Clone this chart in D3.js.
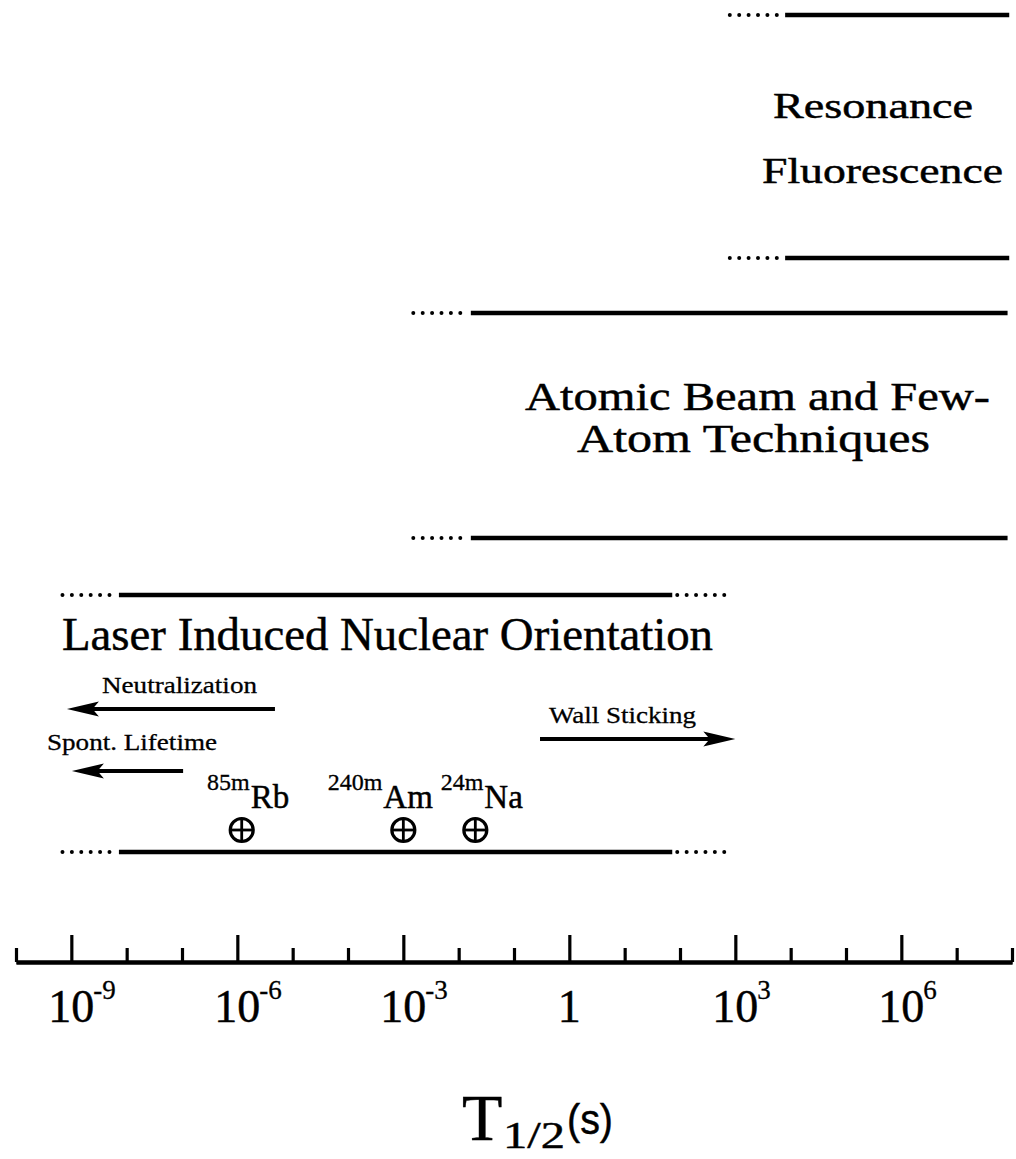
<!DOCTYPE html>
<html>
<head>
<meta charset="utf-8">
<script src="https://cdn.jsdelivr.net/npm/d3@7"></script>
<style>
  html, body { margin: 0; padding: 0; background: #fff; }
  svg { display: block; }
  text { fill: #000; stroke: #000; stroke-width: 0.45px; }
</style>
</head>
<body>
<svg id="chart" width="1016" height="1159"></svg>
<script>
// ---- data: accessible half-life ranges, as log10(T1/2 / s) ----
const techniques   = ["Resonance Fluorescence", "Atomic Beam and Few-Atom Techniques", "Laser Induced Nuclear Orientation"];
const labelLines   = [["Resonance", "Fluorescence"], ["Atomic Beam and Few-", "Atom Techniques"], ["Laser Induced Nuclear Orientation"]];
const dottedFrom   = [2.9, -2.82, -9.16];
const solidFrom    = [3.9, -1.78, -8.14];
const solidTo      = [7.95, 7.92, 1.86];
const dottedTo     = [null, null, 2.92];

// limiting processes for nuclear orientation (arrow from -> to, log10 s)
const limitNames   = ["Neutralization", "Spont. Lifetime", "Wall Sticking"];
const limitFrom    = [-5.32, -6.98, -0.53];
const limitTo      = [-9.08, -8.99, 3.0];

// isomers and their half-lives (s)
const isomerMass     = ["85m", "240m", "24m"];
const isomerSymbol   = ["Rb", "Am", "Na"];
const isomerHalfLife = [1.2e-6, 1.0e-3, 2.0e-2];

// axis ticks (decades) and labelled decades
const tickExponents  = d3.range(-10, 9);
const labelExponents = [-9, -6, -3, 0, 3, 6];

// ---- layout ----
const svg = d3.select("#chart");
const serif = "'Liberation Serif', 'Times New Roman', serif";
const sans  = "'Liberation Sans', Arial, sans-serif";
const x = d3.scaleLog().domain([1e-10, 1e8]).range([16, 1012]);
const xe = e => x(Math.pow(10, e));
const axisY = 962;

const bandRules = [[15, 258], [313, 538], [595, 852]];
const bandLabelLayout = [
  { x: [773, 762], w: [200, 241], y: [118, 183], size: 35 },
  { x: [525, 577], w: [465, 353], y: [410, 452], size: 40 },
  { x: [62],       w: [651],      y: [650],      size: 46 }
];
const limitLayout = [
  { y: 709, ty: 693, tx: 102, tw: 155 },
  { y: 771, ty: 750, tx: 47,  tw: 170 },
  { y: 739, ty: 723, tx: 549, tw: 147 }
];
const isomerY = 830, isomerDx = [8, -21, 8];

svg.append("rect").attr("width", 1016).attr("height", 1159).attr("fill", "#fff");

function addText(parent, str, px, py, size, width, family) {
  const t = parent.append("text")
    .attr("x", px).attr("y", py)
    .attr("font-family", family || serif)
    .attr("font-size", size)
    .text(str);
  if (width) t.attr("textLength", width).attr("lengthAdjust", "spacingAndGlyphs");
  if (size < 30) t.style("stroke-width", "0.3px");
  return t;
}

// ---- band rules: dotted lead-in, solid range, optional dotted tail ----
const bands = svg.append("g").attr("class", "bands");
techniques.forEach((name, i) => {
  bandRules[i].forEach(ry => {
    const g = bands.append("g");
    g.append("line")
      .attr("x1", xe(dottedFrom[i])).attr("x2", xe(solidFrom[i]) - 8)
      .attr("y1", ry).attr("y2", ry)
      .attr("stroke", "#000").attr("stroke-width", 4)
      .attr("stroke-linecap", "round").attr("stroke-dasharray", "0 9.4");
    g.append("line")
      .attr("x1", xe(solidFrom[i])).attr("x2", xe(solidTo[i]))
      .attr("y1", ry).attr("y2", ry)
      .attr("stroke", "#000").attr("stroke-width", 4.4);
    if (dottedTo[i] !== null) {
      g.append("line")
        .attr("x1", xe(solidTo[i]) + 5).attr("x2", xe(dottedTo[i]) + 1)
        .attr("y1", ry).attr("y2", ry)
        .attr("stroke", "#000").attr("stroke-width", 4)
        .attr("stroke-linecap", "round").attr("stroke-dasharray", "0 9.4");
    }
  });
  const L = bandLabelLayout[i];
  labelLines[i].forEach((line, k) => addText(bands, line, L.x[k], L.y[k], L.size, L.w[k]));
});

// ---- limiting-process arrows ----
const arrows = svg.append("g").attr("class", "limits");
limitNames.forEach((name, i) => {
  const L = limitLayout[i];
  const x0 = xe(limitFrom[i]), x1 = xe(limitTo[i]);
  const dir = Math.sign(x1 - x0);
  const headLen = 32, headHalf = 7.5;
  arrows.append("line")
    .attr("x1", x0).attr("x2", x1 - dir * headLen * 0.6)
    .attr("y1", L.y).attr("y2", L.y)
    .attr("stroke", "#000").attr("stroke-width", 4.2);
  arrows.append("path")
    .attr("d", `M${x1},${L.y} L${x1 - dir * headLen},${L.y - headHalf} L${x1 - dir * headLen * 0.8},${L.y} L${x1 - dir * headLen},${L.y + headHalf} Z`)
    .attr("fill", "#000");
  addText(arrows, name, L.tx, L.ty, 24, L.tw);
});

// ---- isomers ----
const iso = svg.append("g").attr("class", "isomers");
isomerSymbol.forEach((sym, i) => {
  const cx = x(isomerHalfLife[i]);
  const r = 11.5;
  iso.append("circle").attr("cx", cx).attr("cy", isomerY).attr("r", r)
    .attr("fill", "none").attr("stroke", "#000").attr("stroke-width", 3.2);
  iso.append("line").attr("x1", cx - r).attr("x2", cx + r).attr("y1", isomerY).attr("y2", isomerY)
    .attr("stroke", "#000").attr("stroke-width", 2.8);
  iso.append("line").attr("x1", cx).attr("x2", cx).attr("y1", isomerY - r).attr("y2", isomerY + r)
    .attr("stroke", "#000").attr("stroke-width", 2.8);
  const bx = cx + isomerDx[i];
  addText(iso, isomerMass[i], bx, 790, 24).attr("text-anchor", "end");
  addText(iso, sym, bx + 1, 808, 33);
});

// ---- axis ----
const axisG = svg.append("g").attr("transform", `translate(0,${axisY})`);
const minorTicks = tickExponents.filter(e => e % 3 !== 0).map(e => Math.pow(10, e));
const majorTicks = tickExponents.filter(e => e % 3 === 0).map(e => Math.pow(10, e));
axisG.append("g")
  .call(d3.axisTop(x).tickValues(minorTicks).tickSize(14).tickSizeOuter(0).tickFormat(() => ""));
axisG.append("g")
  .call(d3.axisTop(x).tickValues(majorTicks).tickSize(27).tickSizeOuter(0).tickFormat(() => ""));
axisG.selectAll(".domain").attr("stroke", "#000").attr("stroke-width", 4);
axisG.selectAll(".tick line").attr("stroke", "#000").attr("stroke-width", 3.2);

// decade labels: base "10" centred on the tick, exponent raised to the right
const tl = svg.append("g").attr("class", "tick-labels");
labelExponents.forEach(e => {
  const cx = xe(e);
  if (e === 0) {
    addText(tl, "1", cx, 1022, 46).attr("text-anchor", "middle");
    return;
  }
  const base = addText(tl, "10", cx, 1022, 46).attr("text-anchor", "middle");
  const half = base.node().getComputedTextLength() / 2;
  addText(tl, String(e), cx + half - 1, 999, 27);
});

// axis title T1/2(s)
const title = svg.append("g").attr("class", "axis-title");
addText(title, "T", 462, 1140, 66);
addText(title, "1/2", 503, 1148, 37, 62);
addText(title, "(s)", 567, 1134, 42, 46, sans);
</script>
</body>
</html>
